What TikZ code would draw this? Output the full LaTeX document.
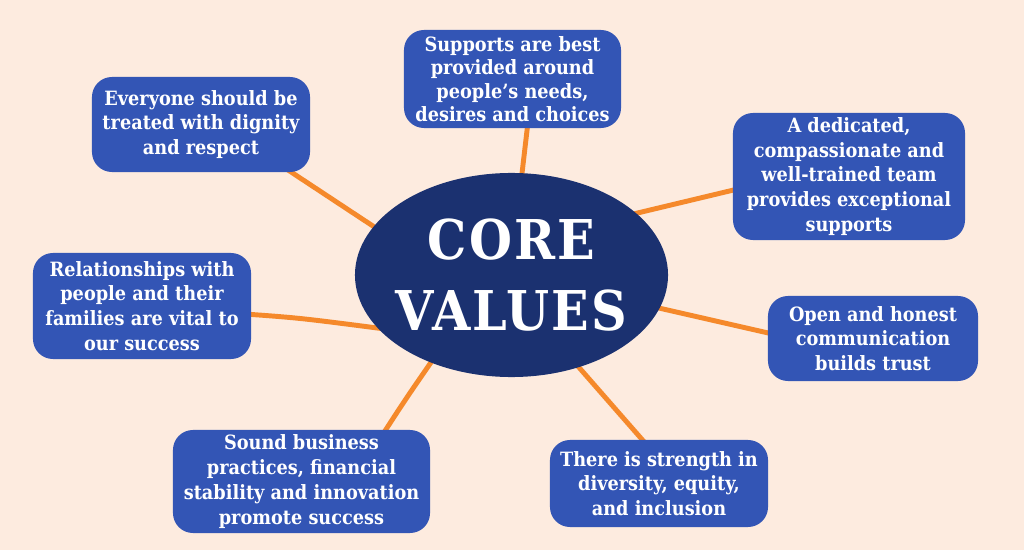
\documentclass[tikz,border=0pt]{standalone}
\usepackage{fontspec}
\setmainfont{DejaVu Serif Condensed}
\usetikzlibrary{shapes.geometric,backgrounds}
\definecolor{bgc}{HTML}{FDEBDF}
\definecolor{boxc}{HTML}{3355B5}
\definecolor{corec}{HTML}{1B3170}
\definecolor{linec}{HTML}{F5892B}
\begin{document}
\begin{tikzpicture}[x=0.025cm,y=-0.025cm,
  vbox/.style={fill=boxc, rounded corners=0.5cm, text=white, align=center, inner sep=0pt,
    font=\bfseries\fontsize{14}{17.6}\selectfont},
  coreell/.style={ellipse, fill=corec, inner sep=0pt,
    minimum width=7.825cm, minimum height=5.1cm},
  coretxt/.style={text=white, align=center, inner sep=0pt,
    font=\bfseries\fontsize{39}{50}\selectfont\addfontfeature{LetterSpace=4}},
  link/.style={draw=linec, line width=3.5pt, line cap=round}]
\useasboundingbox (0,0) rectangle (1024,550);
\node[coreell] (core) at (511.5,275) {};
\node[coretxt] (coretext) at (core.center) {CORE\\VALUES};
\node[vbox, minimum width=5.425cm, minimum height=2.45cm,
  font=\bfseries\fontsize{14}{16.6}\selectfont] (n1) at (512.5,79)
  {Supports are best\\provided around\\people's needs,\\desires and choices};
\node[vbox, minimum width=5.45cm, minimum height=2.375cm] (n2) at (201,124.5)
  {Everyone should be\\treated with dignity\\and respect};
\node[vbox, minimum width=5.8cm, minimum height=3.175cm] (n3) at (849,176.5)
  {A dedicated,\\compassionate and\\well-trained team\\provides exceptional\\supports};
\node[vbox, minimum width=5.45cm, minimum height=2.65cm] (n4) at (142,306)
  {Relationships with\\people and their\\families are vital to\\our success};
\node[vbox, minimum width=5.25cm, minimum height=2.125cm] (n5) at (873,338.5)
  {Open and honest\\communication\\builds trust};
\node[vbox, minimum width=6.425cm, minimum height=2.575cm] (n6) at (301.5,481.5)
  {Sound business\\practices, financial\\stability and innovation\\promote success};
\node[vbox, minimum width=5.45cm, minimum height=2.175cm] (n7) at (659,483.5)
  {There is strength in\\diversity, equity,\\and inclusion};
\coordinate (a1) at (528,122); \coordinate (b1) at (521,182);
\coordinate (a2) at (285,168); \coordinate (b2) at (385,234);
\coordinate (a3) at (742,188); \coordinate (b3) at (625,216);
\coordinate (a4) at (245,314); \coordinate (b4) at (385,329);
\coordinate (a5) at (777,335); \coordinate (b5) at (650,306);
\coordinate (a6) at (383,434); \coordinate (b6) at (434,358);
\coordinate (a7) at (646,444); \coordinate (b7) at (576,364);
\begin{pgfonlayer}{background}
  \fill[bgc] (0,0) rectangle (1024,550);
  \draw[link] (a1) -- (b1);
  \draw[link] (a2) -- (b2);
  \draw[link] (a3) -- (b3);
  \draw[link] (a4) .. controls (300,318) .. (b4);
  \draw[link] (a5) -- (b5);
  \draw[link] (a6) .. controls (405,400) .. (b6);
  \draw[link] (a7) -- (b7);
\end{pgfonlayer}
\end{tikzpicture}
\end{document}
